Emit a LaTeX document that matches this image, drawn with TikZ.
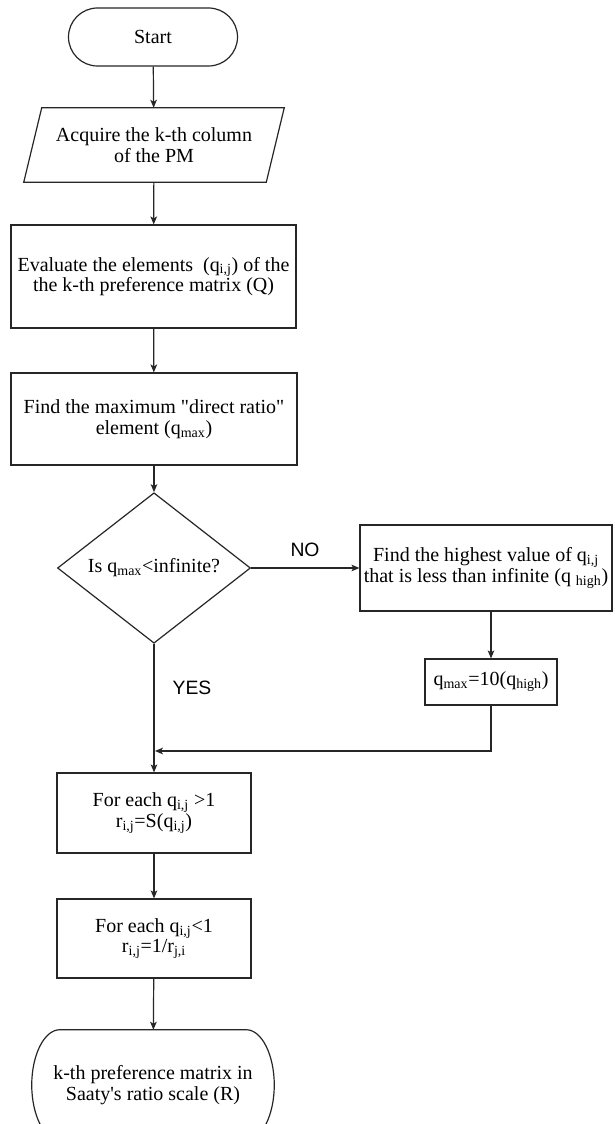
\documentclass[tikz,border=0pt]{standalone}
\usepackage{fontspec}
\setmainfont{Liberation Serif}[Ligatures=TeXOff]
\newfontfamily\labelfont{Liberation Sans}
\usetikzlibrary{shapes.geometric,shapes.misc,arrows.meta,calc}
\newcommand{\sbs}[1]{\textsubscript{#1}}
\tikzset{
  txt/.style={font=\fontsize{15}{15.5}\selectfont, align=center, inner sep=0pt},
  line/.style={draw=black!85, line width=0.9pt},
  arr/.style={draw=black!85, line width=0.9pt, -{Stealth[length=6pt,width=5pt,inset=1.5pt]}},
  procbox/.style={txt, line, rectangle},
  lbl/.style={font=\labelfont\fontsize{14.5}{15}\selectfont, inner sep=0pt},
}
\begin{document}
\begin{tikzpicture}[x=0.75pt,y=-0.75pt]
\useasboundingbox (0,0) rectangle (614,1124);
\fill[white] (0,0) rectangle (614,1124);

\node[txt, line, rounded rectangle, minimum width=126.75pt, minimum height=43.5pt] (start) at (153,37) {Start};
\node[txt, minimum width=195pt, minimum height=55.5pt] (acq) at (154,145) {Acquire the k-th column\\of the PM};
\draw[line] (acq.south west) -- ($(acq.north west)+(18,0)$) -- (acq.north east) -- ($(acq.south east)-(18,0)$) -- cycle;
\node[procbox, minimum width=213.75pt, minimum height=77.25pt] (eval) at (153.5,276.5) {Evaluate the elements\ \ (q\sbs{i,j}) of the\\the k-th preference matrix (Q)};
\node[procbox, minimum width=214.5pt, minimum height=69pt] (fmax) at (154,419) {Find the maximum "direct ratio"\\element (q\sbs{max})};
\node[txt, line, diamond, minimum width=144.75pt, minimum height=84pt] (dec) at (154,568) {Is q\sbs{max}<infinite?};
\node[procbox, minimum width=189pt, minimum height=64.5pt] (high) at (486,568) {Find the highest value of q\sbs{i,j}\\that is less than infinite (q \sbs{high})};
\node[procbox, minimum width=99pt, minimum height=34.5pt] (qmax) at (491,682) {q\sbs{max}=10(q\sbs{high})};
\node[procbox, minimum width=145.5pt, minimum height=60pt] (each1) at (154,813) {For each q\sbs{i,j} >1\\r\sbs{i,j}=S(q\sbs{i,j})};
\node[procbox, minimum width=145.5pt, minimum height=59.25pt] (each2) at (154,938.5) {For each q\sbs{i,j}<1\\r\sbs{i,j}=1/r\sbs{j,i}};
\node[txt, minimum width=181.5pt, minimum height=82.5pt] (end) at (153,1085) {k-th preference matrix in\\Saaty's ratio scale (R)};
\draw[line] ($(end.north west)+(28,0)$) -- ($(end.north east)+(-28,0)$)
  .. controls ($(end.north east)+(-12.5,0)$) and ($(end.east)+(0,-30)$) .. (end.east)
  .. controls ($(end.east)+(0,30)$) and ($(end.south east)+(-12.5,0)$) .. ($(end.south east)+(-28,0)$)
  -- ($(end.south west)+(28,0)$)
  .. controls ($(end.south west)+(12.5,0)$) and ($(end.west)+(0,30)$) .. (end.west)
  .. controls ($(end.west)+(0,-30)$) and ($(end.north west)+(12.5,0)$) .. cycle;

\node[lbl] (no) at (305,550) {NO};
\node[lbl] (yes) at (192,688) {YES};
\coordinate (join) at (155,751);

\draw[arr] (start) -- (acq);
\draw[arr] (acq) -- (eval);
\draw[arr] (eval) -- (fmax);
\draw[arr] (fmax) -- (dec);
\draw[arr] (dec.east) -- (high.west |- dec.east);
\draw[arr] (qmax.north |- high.south) -- (qmax.north);
\draw[arr] (qmax.south) |- (join);
\draw[arr] (dec.south) -- (each1.north);
\draw[arr] (each1) -- (each2);
\draw[arr] (each2) -- (end);
\end{tikzpicture}
\end{document}
